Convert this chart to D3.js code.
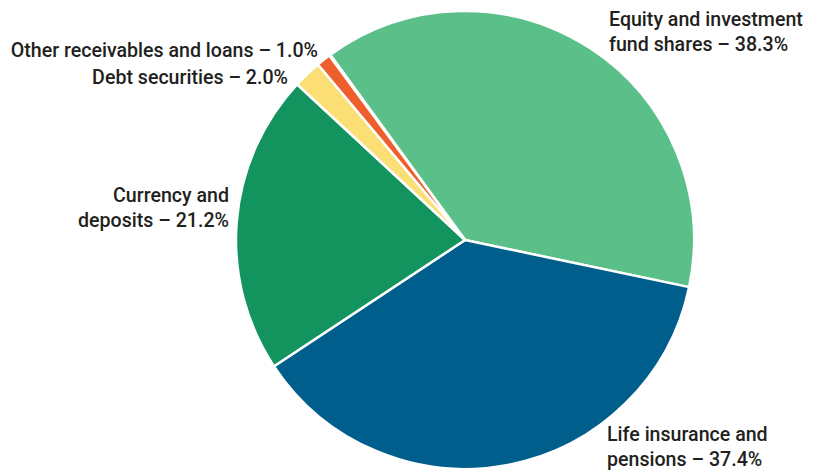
<!DOCTYPE html>
<html><head><meta charset="utf-8">
<script src="https://cdn.jsdelivr.net/npm/d3@7"></script>
<style>body{margin:0;background:#fff}svg{display:block}</style>
</head><body>
<svg id="c" width="820" height="470"></svg>
<script>
const categories = ["Equity and investment fund shares","Life insurance and pensions","Currency and deposits","Debt securities","Other receivables and loans"];
const values = [38.3, 37.4, 21.2, 2.0, 1.0];
const colors = ["#5bbf8a","#005e8d","#13945f","#fbdf75","#ef5f2e"];
const labelLines = [
  ["Equity and investment","fund shares – 38.3%"],
  ["Life insurance and","pensions – 37.4%"],
  ["Currency and","deposits – 21.2%"],
  ["Debt securities – 2.0%"],
  ["Other receivables and loans – 1.0%"]
];
const labelPos = [[609,26,"start"],[607,441,"start"],[229,202,"end"],[288,84,"end"],[318,57,"end"]];

const svg = d3.select("#c");
const cx = 465, cy = 240, r = 229;
const start = -36 * Math.PI/180;
const pie = d3.pie().sort(null).value(d=>d).startAngle(start).endAngle(start + 2*Math.PI * d3.sum(values)/100);
const arc = d3.arc().innerRadius(0).outerRadius(r);
const g = svg.append("g").attr("transform",`translate(${cx},${cy})`);
g.selectAll("path").data(pie(values)).join("path")
  .attr("d",arc).attr("fill",(d,i)=>colors[i]).attr("stroke","#fff").attr("stroke-width",2.5).attr("stroke-linejoin","round");

const lg = svg.append("g").attr("font-family","Roboto, sans-serif").attr("font-weight",500).attr("font-size",19.6).attr("fill","#231f20");
labelLines.forEach((lines,i)=>{
  const [x,y,a] = labelPos[i];
  const t = lg.append("text").attr("x",x).attr("y",y).attr("text-anchor",a);
  lines.forEach((l,j)=>t.append("tspan").attr("x",x).attr("dy",j?24.5:0).text(l));
});
</script>
</body></html>
